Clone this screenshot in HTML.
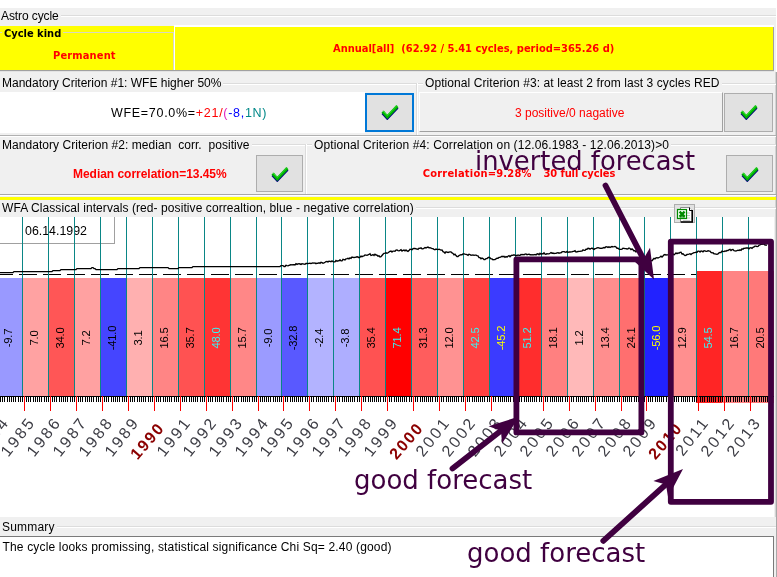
<!DOCTYPE html>
<html><head><meta charset="utf-8"><title>Astro cycle</title>
<style>
html,body{margin:0;padding:0;background:#fff;}
body{width:777px;height:577px;position:relative;overflow:hidden;font-family:"Liberation Sans",sans-serif;font-size:12px;color:#000;}
.a{position:absolute;}
.t{position:absolute;white-space:nowrap;line-height:14px;}
.tb{font-family:"DejaVu Sans Condensed","DejaVu Sans","Liberation Sans",sans-serif;font-weight:bold;font-size:11px;}
.red{color:#f00;}
.btn{position:absolute;background:#e1e1e1;border:1px solid #adadad;box-sizing:border-box;}
.vl{position:absolute;top:217px;width:1px;height:180px;background:#0a8686;}
.bar{position:absolute;}
.bl{position:absolute;white-space:nowrap;font-size:11.3px;letter-spacing:-0.25px;line-height:12px;transform:translate(-50%,-50%) rotate(-90deg);}
.yl{position:absolute;white-space:nowrap;font-size:16px;letter-spacing:2.44px;line-height:16px;color:#3c3c44;transform-origin:100% 50%;}
.yb{font-weight:bold;color:#8b0000;letter-spacing:1.8px;}
.ann{position:absolute;white-space:nowrap;color:#400040;font-family:"DejaVu Sans","Liberation Sans",sans-serif;}
</style></head><body>

<div class="a" style="left:0;top:8px;width:776px;height:569px;background:#f0f0f0"></div>
<div class="a" style="left:775px;top:72px;width:1px;height:505px;background:#d4d4d4"></div>
<div class="a" style="left:776px;top:72px;width:1px;height:505px;background:#a8a8a8"></div>
<div class="a" style="left:0;top:15px;width:776px;height:1px;background:#dcdcdc"></div>
<div class="a" style="left:0;top:16px;width:776px;height:1px;background:#fff"></div>
<div class="t" style="left:0;top:9px;background:#f0f0f0;padding:0 2px 0 1px;letter-spacing:-0.1px">Astro cycle</div>
<div class="a" style="left:0;top:26px;width:174px;height:44px;background:#ffff00"></div>
<div class="a" style="left:174px;top:25px;width:600px;height:46px;background:#fff"></div>
<div class="a" style="left:175px;top:27px;width:599px;height:43px;background:#ffff00;box-sizing:border-box;border-right:1px solid #a0a0a0"></div>
<div class="a" style="left:0;top:32px;width:174px;height:38px;border:1px solid #d8d8c0;border-left:none;border-bottom:none;box-sizing:border-box"></div>
<div class="a" style="left:0;top:70px;width:774px;height:1px;background:#a0a0a0"></div>
<div class="a" style="left:0;top:71px;width:774px;height:1px;background:#e3e3e3"></div>
<div class="t tb" style="left:2px;top:27px;background:#ffff00;padding:0 2px">Cycle kind</div>
<div class="t tb red" style="left:53px;top:49px;letter-spacing:0.15px">Permanent</div>
<div class="t tb red" style="left:333px;top:42px">Annual[all]&nbsp; (62.92 / 5.41 cycles, period=365.26 d)</div>
<div class="a" style="left:0;top:83px;width:417px;height:1px;background:#dcdcdc"></div>
<div class="a" style="left:0;top:84px;width:417px;height:1px;background:#fff"></div>
<div class="t" style="left:0;top:76px;background:#f0f0f0;padding:0 2px 0 2px">Mandatory Criterion #1: WFE higher 50%</div>
<div class="a" style="left:0;top:92px;width:365px;height:41px;background:#fff"></div>
<div class="t" style="left:111px;top:106px;font-size:12.5px;letter-spacing:0.7px">WFE=70.0%=<span style="color:#f00">+21/</span><span style="color:#e020c0">(</span><span style="color:#00f">-8,</span><span style="color:#088">1N)</span></div>
<div class="btn" style="left:365px;top:93px;width:49px;height:39px;border:2px solid #0078d7"></div>
<svg class="a" style="left:381px;top:104px" width="18" height="16" viewBox="0 0 18 16"><path d="M1.6 8.9 L6.3 14.1 L16.4 3.4" fill="none" stroke="#000080" stroke-width="3"/><path d="M1.6 7.6 L6.3 12.8 L16.4 2.1" fill="none" stroke="#00b400" stroke-width="3"/><path d="M2 6.9 L6.3 11.6 L15.8 1.6" fill="none" stroke="#30e030" stroke-width="1"/></svg>
<div class="a" style="left:416px;top:83px;width:1px;height:52px;background:#dcdcdc"></div>
<div class="a" style="left:417px;top:83px;width:1px;height:52px;background:#fff"></div>
<div class="a" style="left:418px;top:83px;width:358px;height:1px;background:#dcdcdc"></div>
<div class="a" style="left:418px;top:84px;width:358px;height:1px;background:#fff"></div>
<div class="t" style="left:423px;top:76px;background:#f0f0f0;padding:0 2px 0 2px;letter-spacing:0.08px">Optional Criterion #3: at least 2 from last 3 cycles RED</div>
<div class="a" style="left:419px;top:92px;width:304px;height:40px;box-sizing:border-box;border-top:1px solid #fff;border-left:1px solid #fff;border-right:1px solid #a0a0a0;border-bottom:1px solid #a0a0a0"></div>
<div class="t red" style="left:515px;top:106px">3 positive/0 nagative</div>
<div class="btn" style="left:724px;top:93px;width:49px;height:39px"></div>
<svg class="a" style="left:740px;top:104px" width="18" height="16" viewBox="0 0 18 16"><path d="M1.6 8.9 L6.3 14.1 L16.4 3.4" fill="none" stroke="#000080" stroke-width="3"/><path d="M1.6 7.6 L6.3 12.8 L16.4 2.1" fill="none" stroke="#00b400" stroke-width="3"/><path d="M2 6.9 L6.3 11.6 L15.8 1.6" fill="none" stroke="#30e030" stroke-width="1"/></svg>
<div class="a" style="left:0;top:135px;width:776px;height:1px;background:#b0b0b0"></div>
<div class="a" style="left:0;top:136px;width:776px;height:1px;background:#fff"></div>
<div class="a" style="left:0;top:144px;width:306px;height:1px;background:#dcdcdc"></div>
<div class="a" style="left:0;top:145px;width:306px;height:1px;background:#fff"></div>
<div class="a" style="left:305px;top:144px;width:1px;height:50px;background:#dcdcdc"></div>
<div class="a" style="left:306px;top:144px;width:1px;height:50px;background:#fff"></div>
<div class="t" style="left:0;top:138px;background:#f0f0f0;padding:0 2px 0 2px;letter-spacing:0.045px">Mandatory Criterion #2: median&nbsp; corr.&nbsp; positive</div>
<div class="t red" style="left:73px;top:166.9px;font-weight:bold;letter-spacing:-0.03px">Median correlation=13.45%</div>
<div class="btn" style="left:256px;top:155px;width:47px;height:37px"></div>
<svg class="a" style="left:271px;top:165.5px" width="18" height="16" viewBox="0 0 18 16"><path d="M1.6 8.9 L6.3 14.1 L16.4 3.4" fill="none" stroke="#000080" stroke-width="3"/><path d="M1.6 7.6 L6.3 12.8 L16.4 2.1" fill="none" stroke="#00b400" stroke-width="3"/><path d="M2 6.9 L6.3 11.6 L15.8 1.6" fill="none" stroke="#30e030" stroke-width="1"/></svg>
<div class="a" style="left:307px;top:144px;width:469px;height:1px;background:#dcdcdc"></div>
<div class="a" style="left:307px;top:145px;width:469px;height:1px;background:#fff"></div>
<div class="t" style="left:312px;top:138px;background:#f0f0f0;padding:0 2px 0 2px;letter-spacing:0.11px">Optional Criterion #4: Correlation on (12.06.1983 - 12.06.2013)&gt;0</div>
<div class="t tb red" style="left:422.7px;top:167.4px;letter-spacing:0.22px">Correlation=9.28%<span style="letter-spacing:-0.08px;padding-left:11.8px">30 full cycles</span></div>
<div class="btn" style="left:726px;top:155px;width:47px;height:37px"></div>
<svg class="a" style="left:741.2px;top:165.5px" width="18" height="16" viewBox="0 0 18 16"><path d="M1.6 8.9 L6.3 14.1 L16.4 3.4" fill="none" stroke="#000080" stroke-width="3"/><path d="M1.6 7.6 L6.3 12.8 L16.4 2.1" fill="none" stroke="#00b400" stroke-width="3"/><path d="M2 6.9 L6.3 11.6 L15.8 1.6" fill="none" stroke="#30e030" stroke-width="1"/></svg>
<div class="a" style="left:0;top:194px;width:776px;height:1px;background:#a8a8a8"></div>
<div class="a" style="left:0;top:195px;width:776px;height:1px;background:#fff"></div>
<div class="a" style="left:0;top:197px;width:776px;height:3px;background:#ffff00"></div>
<div class="a" style="left:0;top:207px;width:776px;height:1px;background:#dcdcdc"></div>
<div class="a" style="left:0;top:208px;width:776px;height:1px;background:#fff"></div>
<div class="t" style="left:0;top:201px;background:#f0f0f0;padding:0 2px 0 2px;letter-spacing:0.08px">WFA Classical intervals (red- positive correaltion, blue - negative correlation)</div>
<div class="a" style="left:0;top:217px;width:774px;height:300px;background:#fff"></div>
<div class="a" style="left:0;top:217px;width:115px;height:27px;box-sizing:border-box;border-right:1px solid #a0a0a0;border-bottom:1px solid #a0a0a0"></div>
<div class="t" style="left:25px;top:224px;font-size:12.4px">06.14.1992</div>
<div class="bar" style="left:0px;top:278px;width:22px;height:119px;background:#9999ff"></div>
<div class="bar" style="left:22px;top:278px;width:26px;height:119px;background:#ffa2a2"></div>
<div class="bar" style="left:48px;top:278px;width:26px;height:119px;background:#ff5656"></div>
<div class="bar" style="left:74px;top:278px;width:26px;height:119px;background:#ffa1a1"></div>
<div class="bar" style="left:100px;top:278px;width:26px;height:119px;background:#4545ff"></div>
<div class="bar" style="left:126px;top:278px;width:26px;height:119px;background:#ffb0b0"></div>
<div class="bar" style="left:152px;top:278px;width:26px;height:119px;background:#ff8585"></div>
<div class="bar" style="left:178px;top:278px;width:26px;height:119px;background:#ff5252"></div>
<div class="bar" style="left:204px;top:278px;width:26px;height:119px;background:#ff3434"></div>
<div class="bar" style="left:230px;top:278px;width:26px;height:119px;background:#ff8787"></div>
<div class="bar" style="left:256px;top:278px;width:25px;height:119px;background:#9b9bff"></div>
<div class="bar" style="left:281px;top:278px;width:26px;height:119px;background:#5959ff"></div>
<div class="bar" style="left:307px;top:278px;width:26px;height:119px;background:#b3b3ff"></div>
<div class="bar" style="left:333px;top:278px;width:26px;height:119px;background:#aeaeff"></div>
<div class="bar" style="left:359px;top:278px;width:26px;height:119px;background:#ff5252"></div>
<div class="bar" style="left:385px;top:278px;width:26px;height:119px;background:#ff0000"></div>
<div class="bar" style="left:411px;top:278px;width:26px;height:119px;background:#ff5d5d"></div>
<div class="bar" style="left:437px;top:278px;width:26px;height:119px;background:#ff9292"></div>
<div class="bar" style="left:463px;top:278px;width:26px;height:119px;background:#ff4141"></div>
<div class="bar" style="left:489px;top:278px;width:26px;height:119px;background:#3b3bff"></div>
<div class="bar" style="left:515px;top:278px;width:26px;height:119px;background:#ff2d2d"></div>
<div class="bar" style="left:541px;top:278px;width:26px;height:119px;background:#ff8080"></div>
<div class="bar" style="left:567px;top:278px;width:26px;height:119px;background:#ffb9b9"></div>
<div class="bar" style="left:593px;top:278px;width:26px;height:119px;background:#ff8e8e"></div>
<div class="bar" style="left:619px;top:278px;width:25px;height:119px;background:#ff6f6f"></div>
<div class="bar" style="left:644px;top:278px;width:26px;height:119px;background:#2222ff"></div>
<div class="bar" style="left:670px;top:278px;width:26px;height:119px;background:#ff8f8f"></div>
<div class="bar" style="left:696px;top:271px;width:26px;height:132px;background:#ff2525"></div>
<div class="bar" style="left:722px;top:271px;width:26px;height:132px;background:#ff8484"></div>
<div class="bar" style="left:748px;top:271px;width:26px;height:132px;background:#ff7979"></div>
<svg class="a" style="left:0;top:270px" width="777" height="8"><line x1="-5" y1="4.5" x2="696" y2="4.5" stroke="#000" stroke-width="1" stroke-dasharray="18 6"/></svg>
<div class="vl" style="left:22px"></div>
<div class="vl" style="left:48px"></div>
<div class="vl" style="left:74px"></div>
<div class="vl" style="left:100px"></div>
<div class="vl" style="left:126px"></div>
<div class="vl" style="left:152px"></div>
<div class="vl" style="left:178px"></div>
<div class="vl" style="left:204px"></div>
<div class="vl" style="left:230px"></div>
<div class="vl" style="left:256px"></div>
<div class="vl" style="left:281px"></div>
<div class="vl" style="left:307px"></div>
<div class="vl" style="left:333px"></div>
<div class="vl" style="left:359px"></div>
<div class="vl" style="left:385px"></div>
<div class="vl" style="left:411px"></div>
<div class="vl" style="left:437px"></div>
<div class="vl" style="left:463px"></div>
<div class="vl" style="left:489px"></div>
<div class="vl" style="left:515px"></div>
<div class="vl" style="left:541px"></div>
<div class="vl" style="left:567px"></div>
<div class="vl" style="left:593px"></div>
<div class="vl" style="left:619px"></div>
<div class="vl" style="left:644px"></div>
<div class="vl" style="left:670px"></div>
<div class="vl" style="left:696px"></div>
<div class="vl" style="left:722px"></div>
<div class="vl" style="left:748px"></div>
<div class="bl" style="left:8.10px;top:338px;color:#000">-9.7</div>
<div class="bl" style="left:34.10px;top:338px;color:#000">7.0</div>
<div class="bl" style="left:60.10px;top:338px;color:#000">34.0</div>
<div class="bl" style="left:86.10px;top:338px;color:#000">7.2</div>
<div class="bl" style="left:112.10px;top:338px;color:#000">-41.0</div>
<div class="bl" style="left:138.10px;top:338px;color:#000">3.1</div>
<div class="bl" style="left:164.10px;top:338px;color:#000">16.5</div>
<div class="bl" style="left:190.10px;top:338px;color:#000">35.7</div>
<div class="bl" style="left:216.10px;top:338px;color:#38f4f4">48.0</div>
<div class="bl" style="left:242.10px;top:338px;color:#000">15.7</div>
<div class="bl" style="left:267.60px;top:338px;color:#000">-9.0</div>
<div class="bl" style="left:293.10px;top:338px;color:#000">-32.8</div>
<div class="bl" style="left:319.10px;top:338px;color:#000">-2.4</div>
<div class="bl" style="left:345.10px;top:338px;color:#000">-3.8</div>
<div class="bl" style="left:371.10px;top:338px;color:#000">35.4</div>
<div class="bl" style="left:397.10px;top:338px;color:#38f4f4">71.4</div>
<div class="bl" style="left:423.10px;top:338px;color:#000">31.3</div>
<div class="bl" style="left:449.10px;top:338px;color:#000">12.0</div>
<div class="bl" style="left:475.10px;top:338px;color:#38f4f4">42.5</div>
<div class="bl" style="left:501.10px;top:338px;color:#ffff00">-45.2</div>
<div class="bl" style="left:527.10px;top:338px;color:#38f4f4">51.2</div>
<div class="bl" style="left:553.10px;top:338px;color:#000">18.1</div>
<div class="bl" style="left:579.10px;top:338px;color:#000">1.2</div>
<div class="bl" style="left:605.10px;top:338px;color:#000">13.4</div>
<div class="bl" style="left:630.60px;top:338px;color:#000">24.1</div>
<div class="bl" style="left:656.10px;top:338px;color:#ffff00">-56.0</div>
<div class="bl" style="left:682.10px;top:338px;color:#000">12.9</div>
<div class="bl" style="left:708.10px;top:338px;color:#38f4f4">54.5</div>
<div class="bl" style="left:734.10px;top:338px;color:#000">16.7</div>
<div class="bl" style="left:760.10px;top:338px;color:#000">20.5</div>
<div class="a" style="left:0;top:396px;width:774px;height:1px;background:#000"></div>
<svg class="a" style="left:0;top:390px" width="777" height="14" viewBox="0 390 777 14" shape-rendering="crispEdges"><path d="M0 397v5M2 397v5M4 397v5M7 397v5M9 397v5M11 397v5M13 397v5M15 397v5M18 397v5M20 397v5M22 397v5M24 397v5M26 397v5M28 397v5M30 397v5M33 397v5M35 397v5M37 397v5M39 397v5M41 397v5M44 397v5M46 397v5M48 397v5M50 397v5M52 397v5M54 397v5M56 397v5M59 397v5M61 397v5M63 397v5M65 397v5M67 397v5M70 397v5M72 397v5M74 397v5M76 397v5M78 397v5M80 397v5M82 397v5M85 397v5M87 397v5M89 397v5M91 397v5M93 397v5M96 397v5M98 397v5M100 397v5M102 397v5M104 397v5M106 397v5M108 397v5M111 397v5M113 397v5M115 397v5M117 397v5M119 397v5M122 397v5M124 397v5M126 397v5M128 397v5M130 397v5M132 397v5M134 397v5M137 397v5M139 397v5M141 397v5M143 397v5M145 397v5M148 397v5M150 397v5M152 397v5M154 397v5M156 397v5M158 397v5M160 397v5M163 397v5M165 397v5M167 397v5M169 397v5M171 397v5M174 397v5M176 397v5M178 397v5M180 397v5M182 397v5M184 397v5M186 397v5M189 397v5M191 397v5M193 397v5M195 397v5M197 397v5M200 397v5M202 397v5M204 397v5M206 397v5M208 397v5M210 397v5M212 397v5M215 397v5M217 397v5M219 397v5M221 397v5M223 397v5M226 397v5M228 397v5M230 397v5M232 397v5M234 397v5M236 397v5M238 397v5M241 397v5M243 397v5M245 397v5M247 397v5M249 397v5M252 397v5M254 397v5M256 397v5M258 397v5M260 397v5M262 397v5M264 397v5M266 397v5M268 397v5M270 397v5M273 397v5M275 397v5M277 397v5M279 397v5M281 397v5M283 397v5M285 397v5M287 397v5M290 397v5M292 397v5M294 397v5M296 397v5M298 397v5M300 397v5M302 397v5M305 397v5M307 397v5M309 397v5M311 397v5M313 397v5M316 397v5M318 397v5M320 397v5M322 397v5M324 397v5M326 397v5M328 397v5M331 397v5M333 397v5M335 397v5M337 397v5M339 397v5M342 397v5M344 397v5M346 397v5M348 397v5M350 397v5M352 397v5M354 397v5M357 397v5M359 397v5M361 397v5M363 397v5M365 397v5M368 397v5M370 397v5M372 397v5M374 397v5M376 397v5M378 397v5M380 397v5M383 397v5M385 397v5M387 397v5M389 397v5M391 397v5M394 397v5M396 397v5M398 397v5M400 397v5M402 397v5M404 397v5M406 397v5M409 397v5M411 397v5M413 397v5M415 397v5M417 397v5M420 397v5M422 397v5M424 397v5M426 397v5M428 397v5M430 397v5M432 397v5M435 397v5M437 397v5M439 397v5M441 397v5M443 397v5M446 397v5M448 397v5M450 397v5M452 397v5M454 397v5M456 397v5M458 397v5M461 397v5M463 397v5M465 397v5M467 397v5M469 397v5M472 397v5M474 397v5M476 397v5M478 397v5M480 397v5M482 397v5M484 397v5M487 397v5M489 397v5M491 397v5M493 397v5M495 397v5M498 397v5M500 397v5M502 397v5M504 397v5M506 397v5M508 397v5M510 397v5M513 397v5M515 397v5M517 397v5M519 397v5M521 397v5M524 397v5M526 397v5M528 397v5M530 397v5M532 397v5M534 397v5M536 397v5M539 397v5M541 397v5M543 397v5M545 397v5M547 397v5M550 397v5M552 397v5M554 397v5M556 397v5M558 397v5M560 397v5M562 397v5M565 397v5M567 397v5M569 397v5M571 397v5M573 397v5M576 397v5M578 397v5M580 397v5M582 397v5M584 397v5M586 397v5M588 397v5M591 397v5M593 397v5M595 397v5M597 397v5M599 397v5M602 397v5M604 397v5M606 397v5M608 397v5M610 397v5M612 397v5M614 397v5M617 397v5M619 397v5M621 397v5M623 397v5M625 397v5M627 397v5M629 397v5M631 397v5M634 397v5M636 397v5M638 397v5M640 397v5M642 397v5M644 397v5M646 397v5M648 397v5M650 397v5M652 397v5M655 397v5M657 397v5M659 397v5M661 397v5M663 397v5M666 397v5M668 397v5M670 397v5M672 397v5M674 397v5M676 397v5M678 397v5M681 397v5M683 397v5M685 397v5M687 397v5M689 397v5M692 397v5M694 397v5M696 397v5M698 397v5M700 397v5M702 397v5M704 397v5M707 397v5M709 397v5M711 397v5M713 397v5M715 397v5M718 397v5M720 397v5M722 397v5M724 397v5M726 397v5M728 397v5M730 397v5M733 397v5M735 397v5M737 397v5M739 397v5M741 397v5M744 397v5M746 397v5M748 397v5M750 397v5M752 397v5M754 397v5M756 397v5M759 397v5M761 397v5M763 397v5M765 397v5M767 397v5M770 397v5M772 397v5" stroke="#000" stroke-width="1" fill="none" transform="translate(0.5,0)"/></svg>
<div class="a" style="left:24px;top:396px;width:1px;height:15px;background:#f00"></div>
<div class="a" style="left:50px;top:396px;width:1px;height:15px;background:#f00"></div>
<div class="a" style="left:76px;top:396px;width:1px;height:15px;background:#f00"></div>
<div class="a" style="left:102px;top:396px;width:1px;height:15px;background:#f00"></div>
<div class="a" style="left:128px;top:396px;width:1px;height:15px;background:#f00"></div>
<div class="a" style="left:154px;top:396px;width:1px;height:15px;background:#f00"></div>
<div class="a" style="left:180px;top:396px;width:1px;height:15px;background:#f00"></div>
<div class="a" style="left:206px;top:396px;width:1px;height:15px;background:#f00"></div>
<div class="a" style="left:232px;top:396px;width:1px;height:15px;background:#f00"></div>
<div class="a" style="left:258px;top:396px;width:1px;height:15px;background:#f00"></div>
<div class="a" style="left:283px;top:396px;width:1px;height:15px;background:#f00"></div>
<div class="a" style="left:309px;top:396px;width:1px;height:15px;background:#f00"></div>
<div class="a" style="left:335px;top:396px;width:1px;height:15px;background:#f00"></div>
<div class="a" style="left:361px;top:396px;width:1px;height:15px;background:#f00"></div>
<div class="a" style="left:387px;top:396px;width:1px;height:15px;background:#f00"></div>
<div class="a" style="left:413px;top:396px;width:1px;height:15px;background:#f00"></div>
<div class="a" style="left:439px;top:396px;width:1px;height:15px;background:#f00"></div>
<div class="a" style="left:465px;top:396px;width:1px;height:15px;background:#f00"></div>
<div class="a" style="left:491px;top:396px;width:1px;height:15px;background:#f00"></div>
<div class="a" style="left:517px;top:396px;width:1px;height:15px;background:#f00"></div>
<div class="a" style="left:543px;top:396px;width:1px;height:15px;background:#f00"></div>
<div class="a" style="left:569px;top:396px;width:1px;height:15px;background:#f00"></div>
<div class="a" style="left:595px;top:396px;width:1px;height:15px;background:#f00"></div>
<div class="a" style="left:621px;top:396px;width:1px;height:15px;background:#f00"></div>
<div class="a" style="left:646px;top:396px;width:1px;height:15px;background:#f00"></div>
<div class="a" style="left:672px;top:396px;width:1px;height:15px;background:#f00"></div>
<div class="a" style="left:698px;top:396px;width:1px;height:15px;background:#f00"></div>
<div class="a" style="left:724px;top:396px;width:1px;height:15px;background:#f00"></div>
<div class="a" style="left:750px;top:396px;width:1px;height:15px;background:#f00"></div>
<div class="yl" style="right:770.70px;top:410.7px;transform:rotate(-52deg)">1984</div>
<div class="yl" style="right:744.70px;top:410.7px;transform:rotate(-52deg)">1985</div>
<div class="yl" style="right:718.70px;top:410.7px;transform:rotate(-52deg)">1986</div>
<div class="yl" style="right:692.70px;top:410.7px;transform:rotate(-52deg)">1987</div>
<div class="yl" style="right:666.70px;top:410.7px;transform:rotate(-52deg)">1988</div>
<div class="yl" style="right:640.70px;top:410.7px;transform:rotate(-52deg)">1989</div>
<div class="yl yb" style="right:615.70px;top:416.5px;transform:rotate(-49deg)">1990</div>
<div class="yl" style="right:588.70px;top:410.7px;transform:rotate(-52deg)">1991</div>
<div class="yl" style="right:562.70px;top:410.7px;transform:rotate(-52deg)">1992</div>
<div class="yl" style="right:536.70px;top:410.7px;transform:rotate(-52deg)">1993</div>
<div class="yl" style="right:510.70px;top:410.7px;transform:rotate(-52deg)">1994</div>
<div class="yl" style="right:485.70px;top:410.7px;transform:rotate(-52deg)">1995</div>
<div class="yl" style="right:459.70px;top:410.7px;transform:rotate(-52deg)">1996</div>
<div class="yl" style="right:433.70px;top:410.7px;transform:rotate(-52deg)">1997</div>
<div class="yl" style="right:407.70px;top:410.7px;transform:rotate(-52deg)">1998</div>
<div class="yl" style="right:381.70px;top:410.7px;transform:rotate(-52deg)">1999</div>
<div class="yl yb" style="right:356.70px;top:416.5px;transform:rotate(-49deg)">2000</div>
<div class="yl" style="right:329.70px;top:410.7px;transform:rotate(-52deg)">2001</div>
<div class="yl" style="right:303.70px;top:410.7px;transform:rotate(-52deg)">2002</div>
<div class="yl" style="right:277.70px;top:410.7px;transform:rotate(-52deg)">2003</div>
<div class="yl" style="right:251.70px;top:410.7px;transform:rotate(-52deg)">2004</div>
<div class="yl" style="right:225.70px;top:410.7px;transform:rotate(-52deg)">2005</div>
<div class="yl" style="right:199.70px;top:410.7px;transform:rotate(-52deg)">2006</div>
<div class="yl" style="right:173.70px;top:410.7px;transform:rotate(-52deg)">2007</div>
<div class="yl" style="right:147.70px;top:410.7px;transform:rotate(-52deg)">2008</div>
<div class="yl" style="right:122.70px;top:410.7px;transform:rotate(-52deg)">2009</div>
<div class="yl yb" style="right:97.70px;top:416.5px;transform:rotate(-49deg)">2010</div>
<div class="yl" style="right:70.70px;top:410.7px;transform:rotate(-52deg)">2011</div>
<div class="yl" style="right:44.70px;top:410.7px;transform:rotate(-52deg)">2012</div>
<div class="yl" style="right:18.70px;top:410.7px;transform:rotate(-52deg)">2013</div>
<svg class="a" style="left:0;top:217px" width="777" height="70" viewBox="0 217 777 70"><polyline fill="none" stroke="#000" stroke-width="1.25" stroke-linejoin="miter" points="0.0,272.5 1.0,272.5 2.0,272.5 3.0,272.5 4.0,272.5 5.0,272.5 6.0,272.5 7.0,272.5 8.0,272.5 9.0,272.5 10.0,272.5 11.0,272.5 12.0,272.5 13.0,272.5 14.0,271.5 15.0,271.5 16.0,271.5 17.0,271.5 18.0,271.5 19.0,271.5 20.0,271.5 21.0,271.5 22.0,271.5 23.0,271.5 24.0,271.5 25.0,271.5 26.0,271.5 27.0,271.5 28.0,271.5 29.0,271.5 30.0,271.5 31.0,271.5 32.0,271.5 33.0,271.5 34.0,271.5 35.0,271.5 36.0,271.5 37.0,271.5 38.0,271.5 39.0,271.5 40.0,271.5 41.0,271.5 42.0,271.5 43.0,271.5 44.0,271.5 45.0,271.5 46.0,271.5 47.0,271.5 48.0,271.5 49.0,271.5 50.0,271.5 51.0,271.5 52.0,271.5 53.0,270.5 54.0,270.5 55.0,270.5 56.0,270.5 57.0,270.5 58.0,270.5 59.0,270.5 60.0,270.5 61.0,269.5 62.0,269.5 63.0,269.5 64.0,269.5 65.0,269.5 66.0,269.5 67.0,269.5 68.0,269.5 69.0,269.5 70.0,269.5 71.0,269.5 72.0,269.5 73.0,269.5 74.0,269.5 75.0,269.5 76.0,269.5 77.0,268.5 78.0,268.5 79.0,268.5 80.0,268.5 81.0,268.5 82.0,268.5 83.0,268.5 84.0,268.5 85.0,268.5 86.0,268.5 87.0,268.5 88.0,268.5 89.0,268.5 90.0,268.5 91.0,268.5 92.0,267.5 93.0,267.5 94.0,268.5 95.0,268.5 96.0,269.5 97.0,269.5 98.0,269.5 99.0,269.5 100.0,269.5 101.0,269.5 102.0,269.5 103.0,269.5 104.0,269.5 105.0,269.5 106.0,269.5 107.0,269.5 108.0,269.5 109.0,269.5 110.0,269.5 111.0,269.5 112.0,269.5 113.0,269.5 114.0,269.5 115.0,269.5 116.0,269.5 117.0,269.5 118.0,268.5 119.0,268.5 120.0,268.5 121.0,268.5 122.0,268.5 123.0,268.5 124.0,268.5 125.0,268.5 126.0,268.5 127.0,268.5 128.0,268.5 129.0,268.5 130.0,268.5 131.0,268.5 132.0,268.5 133.0,268.5 134.0,268.5 135.0,268.5 136.0,268.5 137.0,268.5 138.0,268.5 139.0,268.5 140.0,267.5 141.0,267.5 142.0,267.5 143.0,267.5 144.0,267.5 145.0,267.5 146.0,267.5 147.0,267.5 148.0,267.5 149.0,267.5 150.0,267.5 151.0,267.5 152.0,267.5 153.0,267.5 154.0,267.5 155.0,267.5 156.0,267.5 157.0,267.5 158.0,267.5 159.0,267.5 160.0,267.5 161.0,267.5 162.0,267.5 163.0,267.5 164.0,267.5 165.0,267.5 166.0,267.5 167.0,267.5 168.0,267.5 169.0,268.5 170.0,268.5 171.0,268.5 172.0,268.5 173.0,268.5 174.0,268.5 175.0,268.5 176.0,268.5 177.0,268.5 178.0,268.5 179.0,267.5 180.0,267.5 181.0,267.5 182.0,267.5 183.0,267.5 184.0,267.5 185.0,267.5 186.0,267.5 187.0,267.5 188.0,267.5 189.0,267.5 190.0,267.5 191.0,267.5 192.0,267.5 193.0,266.5 194.0,266.5 195.0,266.5 196.0,266.5 197.0,266.5 198.0,266.5 199.0,266.5 200.0,266.5 201.0,266.5 202.0,266.5 203.0,266.5 204.0,266.5 205.0,266.5 206.0,266.5 207.0,266.5 208.0,266.5 209.0,266.5 210.0,266.5 211.0,266.5 212.0,266.5 213.0,266.5 214.0,266.5 215.0,266.5 216.0,266.5 217.0,266.5 218.0,266.5 219.0,266.5 220.0,266.5 221.0,266.5 222.0,266.5 223.0,266.5 224.0,266.5 225.0,266.5 226.0,266.5 227.0,266.5 228.0,266.5 229.0,266.5 230.0,266.5 231.0,266.5 232.0,266.5 233.0,266.5 234.0,266.5 235.0,266.5 236.0,266.5 237.0,266.5 238.0,266.5 239.0,266.5 240.0,266.5 241.0,266.5 242.0,266.5 243.0,266.5 244.0,266.5 245.0,266.5 246.0,266.5 247.0,266.5 248.0,266.5 249.0,266.5 250.0,266.5 251.0,266.5 252.0,266.5 253.0,266.5 254.0,266.5 255.0,266.5 256.0,266.5 257.0,266.5 258.0,266.5 259.0,266.5 260.0,266.5 261.0,266.5 262.0,266.5 263.0,266.5 264.0,266.5 265.0,266.5 266.0,266.5 267.0,266.5 268.0,266.5 269.0,266.5 270.0,266.5 271.0,266.5 272.0,266.5 273.0,266.5 274.0,266.5 275.0,266.5 276.0,266.5 277.0,266.5 278.0,266.5 279.0,266.5 280.0,266.5 281.0,265.5 282.0,265.5 283.0,265.5 284.0,266.5 285.0,266.5 286.0,265.5"/><polyline fill="none" stroke="#000" stroke-width="1.35" stroke-linejoin="miter" points="285.0,266.0 286.0,265.2 287.0,265.6 288.0,265.8 289.0,265.3 290.0,265.0 291.0,264.6 292.0,264.8 293.0,264.7 294.0,264.7 295.0,265.0 296.0,263.7 297.0,264.4 298.0,263.8 299.0,263.7 300.0,264.0 301.0,264.4 302.0,263.8 303.0,263.9 304.0,264.1 305.0,264.3 306.0,263.5 307.0,263.4 308.0,263.6 309.0,263.4 310.0,263.3 311.0,263.6 312.0,263.2 313.0,263.0 314.0,263.1 315.0,262.9 316.0,263.7 317.0,263.2 318.0,263.4 319.0,262.7 320.0,263.4 321.0,262.2 322.0,262.6 323.0,263.2 324.0,262.9 325.0,262.3 326.0,261.6 327.0,261.5 328.0,261.9 329.0,261.2 330.0,261.4 331.0,261.7 332.0,260.8 333.0,261.7 334.0,261.8 335.0,261.9 336.0,260.5 337.0,261.3 338.0,260.8 339.0,260.9 340.0,259.8 341.0,260.9 342.0,260.8 343.0,259.3 344.0,259.6 345.0,260.0 346.0,258.8 347.0,258.6 348.0,258.3 349.0,258.9 350.0,257.8 351.0,258.3 352.0,257.1 353.0,257.4 354.0,257.5 355.0,257.4 356.0,257.1 357.0,256.8 358.0,257.0 359.0,257.7 360.0,257.3 361.0,256.2 362.0,256.7 363.0,256.2 364.0,256.0 365.0,254.9 366.0,255.1 367.0,255.3 368.0,254.8 369.0,254.5 370.0,253.8 371.0,255.4 372.0,255.1 373.0,254.6 374.0,255.5 375.0,254.2 376.0,255.0 377.0,255.2 378.0,256.2 379.0,255.8 380.0,257.0 381.0,256.7 382.0,255.5 383.0,254.3 384.0,253.3 385.0,253.2 386.0,252.8 387.0,253.3 388.0,252.8 389.0,252.0 390.0,251.4 391.0,251.0 392.0,252.0 393.0,251.1 394.0,251.1 395.0,251.2 396.0,250.1 397.0,249.9 398.0,250.6 399.0,250.8 400.0,250.3 401.0,249.6 402.0,251.0 403.0,250.4 404.0,250.1 405.0,250.9 406.0,249.9 407.0,250.9 408.0,251.4 409.0,250.6 410.0,249.3 411.0,249.4 412.0,249.7 413.0,248.7 414.0,248.5 415.0,248.4 416.0,248.9 417.0,249.0 418.0,249.5 419.0,248.2 420.0,248.4 421.0,247.9 422.0,248.8 423.0,248.9 424.0,248.2 425.0,247.6 426.0,248.0 427.0,247.4 428.0,247.1 429.0,247.8 430.0,247.6 431.0,248.0 432.0,248.6 433.0,248.6 434.0,249.3 435.0,249.8 436.0,249.0 437.0,249.4 438.0,249.6 439.0,249.2 440.0,249.7 441.0,250.1 442.0,250.0 443.0,251.6 444.0,252.0 445.0,253.2 446.0,251.9 447.0,252.2 448.0,252.5 449.0,252.1 450.0,251.9 451.0,251.9 452.0,252.9 453.0,253.4 454.0,254.9 455.0,254.2 456.0,255.6 457.0,256.6 458.0,256.5 459.0,255.6 460.0,255.0 461.0,254.6 462.0,254.8 463.0,253.9 464.0,253.9 465.0,254.2 466.0,254.4 467.0,254.7 468.0,255.3 469.0,254.2 470.0,254.5 471.0,255.2 472.0,255.1 473.0,254.9 474.0,255.3 475.0,255.1 476.0,255.2 477.0,255.7 478.0,255.9 479.0,257.6 480.0,257.6 481.0,258.8 482.0,258.0 483.0,258.6 484.0,259.5 485.0,259.6 486.0,258.6 487.0,258.5 488.0,257.7 489.0,257.3 490.0,257.8 491.0,258.9 492.0,258.9 493.0,259.8 494.0,259.7 495.0,259.6 496.0,258.8 497.0,258.2 498.0,258.2 499.0,257.4 500.0,257.3 501.0,257.0 502.0,256.3 503.0,256.7 504.0,256.3 505.0,257.4 506.0,256.5 507.0,257.1 508.0,256.3 509.0,255.6 510.0,256.7 511.0,255.7 512.0,255.3 513.0,255.4 514.0,254.7 515.0,255.3 516.0,255.5 517.0,255.5 518.0,254.9 519.0,255.4 520.0,255.3 521.0,254.4 522.0,254.7 523.0,254.4 524.0,254.8 525.0,254.1 526.0,254.0 527.0,254.7 528.0,254.3 529.0,254.2 530.0,254.7 531.0,254.6 532.0,254.9 533.0,254.7 534.0,254.8 535.0,254.4 536.0,254.9 537.0,254.0 538.0,253.8 539.0,254.8 540.0,253.3 541.0,254.2 542.0,253.7 543.0,253.9 544.0,252.8 545.0,254.1 546.0,254.2 547.0,253.7 548.0,253.8 549.0,253.9 550.0,253.3 551.0,252.6 552.0,253.2 553.0,253.0 554.0,253.5 555.0,253.4 556.0,253.3 557.0,252.8 558.0,252.6 559.0,253.2 560.0,252.8 561.0,252.8 562.0,251.9 563.0,251.6 564.0,251.7 565.0,252.0 566.0,252.2 567.0,251.4 568.0,252.5 569.0,252.0 570.0,252.0 571.0,251.8 572.0,251.8 573.0,251.4 574.0,251.4 575.0,250.6 576.0,252.0 577.0,251.9 578.0,251.5 579.0,251.4 580.0,251.3 581.0,251.1 582.0,251.1 583.0,249.9 584.0,250.4 585.0,250.4 586.0,249.2 587.0,249.2 588.0,248.3 589.0,248.5 590.0,249.1 591.0,248.5 592.0,248.0 593.0,249.0 594.0,249.4 595.0,248.6 596.0,248.3 597.0,247.9 598.0,247.8 599.0,247.9 600.0,248.4 601.0,248.2 602.0,248.4 603.0,247.9 604.0,247.5 605.0,247.7 606.0,246.7 607.0,246.8 608.0,247.4 609.0,246.8 610.0,247.5 611.0,246.9 612.0,246.5 613.0,246.9 614.0,246.7 615.0,246.4 616.0,247.0 617.0,248.2 618.0,248.2 619.0,249.2 620.0,249.3 621.0,249.4 622.0,249.1 623.0,248.3 624.0,248.4 625.0,248.6 626.0,248.7 627.0,249.0 628.0,248.8 629.0,248.0 630.0,248.5 631.0,249.6 632.0,248.9 633.0,249.8 634.0,251.0 635.0,250.6 636.0,251.9 637.0,250.8 638.0,252.1 639.0,253.2 640.0,253.2 641.0,254.9 642.0,254.8 643.0,255.4 644.0,256.1 645.0,257.5 646.0,259.0 647.0,258.4 648.0,259.7 649.0,259.7 650.0,261.0 651.0,260.5 652.0,260.8 653.0,259.5 654.0,258.3 655.0,258.9 656.0,257.8 657.0,257.6 658.0,258.1 659.0,257.5 660.0,257.0 661.0,256.2 662.0,257.0 663.0,256.0 664.0,254.9 665.0,254.5 666.0,255.0 667.0,254.9 668.0,254.8 669.0,254.4 670.0,254.1 671.0,254.6 672.0,254.2 673.0,254.0 674.0,254.8 675.0,254.1 676.0,252.9 677.0,253.7 678.0,252.9 679.0,253.2 680.0,252.3 681.0,252.2 682.0,254.0 683.0,253.8 684.0,254.7 685.0,255.5 686.0,255.3 687.0,254.5 688.0,254.3 689.0,254.1 690.0,253.7 691.0,254.5 692.0,253.6 693.0,253.2 694.0,252.7 695.0,252.6 696.0,252.1 697.0,252.2 698.0,251.2 699.0,251.1 700.0,252.1 701.0,251.0 702.0,251.1 703.0,251.9 704.0,250.8 705.0,250.9 706.0,251.4 707.0,251.3 708.0,250.7 709.0,251.0 710.0,251.1 711.0,252.4 712.0,252.9 713.0,252.8 714.0,253.8 715.0,253.9 716.0,254.1 717.0,254.4 718.0,254.0 719.0,252.8 720.0,252.5 721.0,252.5 722.0,251.0 723.0,251.4 724.0,251.6 725.0,250.9 726.0,251.2 727.0,250.5 728.0,250.6 729.0,249.8 730.0,249.3 731.0,250.6 732.0,249.7 733.0,249.5 734.0,250.6 735.0,250.8 736.0,251.1 737.0,250.5 738.0,250.2 739.0,250.6 740.0,249.9 741.0,250.4 742.0,248.8 743.0,249.2 744.0,248.2 745.0,248.3 746.0,247.9 747.0,248.0 748.0,247.9 749.0,248.8 750.0,247.8 751.0,247.6 752.0,248.4 753.0,247.3 754.0,246.9 755.0,246.1 756.0,246.2 757.0,246.6 758.0,246.4 759.0,245.2 760.0,244.8 761.0,244.1 762.0,244.4 763.0,244.1 764.0,244.2 765.0,245.1 766.0,244.9 767.0,245.3"/></svg>
<div class="btn" style="left:674px;top:204px;width:21px;height:19px"></div>
<svg class="a" style="left:674px;top:204px" width="22" height="20" viewBox="674 204 22 20"><path d="M680.5 222 V207.5 H689.5 L692.5 210.5 V222 Z" fill="#fff" stroke="#8c8c8c" stroke-width="1"/><path d="M689.5 207.5 V210.5 H692.5" fill="#fff" stroke="#000" stroke-width="1"/><path d="M692.2 210 V222 H680.8" fill="none" stroke="#000" stroke-width="1.6"/><path d="M687 213 H690 M687 215.5 H690 M687 218 H690 M683 220.5 H690" stroke="#c8c8c8" stroke-width="1"/><rect x="677.5" y="209.5" width="9" height="9" fill="#f4fff4" stroke="#008a00" stroke-width="1.2"/><path d="M679.6 211.6 L684.6 216.6 M684.6 211.6 L679.6 216.6" stroke="#008a00" stroke-width="2.3"/><path d="M679.5 216.9 H685" stroke="#008a00" stroke-width="1.2"/></svg>
<div class="a" style="left:0;top:517px;width:776px;height:60px;background:#f0f0f0"></div>
<div class="a" style="left:0;top:526px;width:776px;height:1px;background:#dcdcdc"></div>
<div class="a" style="left:0;top:527px;width:776px;height:1px;background:#fff"></div>
<div class="t" style="left:0;top:520px;background:#f0f0f0;padding:0 2px 0 2px;letter-spacing:0.2px">Summary</div>
<div class="a" style="left:0;top:536px;width:774px;height:41px;background:#fff;box-sizing:border-box;border-top:1px solid #7a7a7a;border-right:1px solid #7a7a7a"></div>
<div class="t" style="left:2.5px;top:540px;letter-spacing:0.167px">The cycle looks promissing, statistical significance Chi Sq= 2.40 (good)</div>
<svg class="a" style="left:0;top:0" width="777" height="577" viewBox="0 0 777 577">
<rect x="516.4" y="259.4" width="125" height="173" fill="none" stroke="#400040" stroke-width="5.8" stroke-linejoin="round"/>
<rect x="670.8" y="241.6" width="100.2" height="260.2" fill="none" stroke="#400040" stroke-width="5.8" stroke-linejoin="round"/>
<line x1="605.5" y1="185.5" x2="643.4" y2="259.0" stroke="#400040" stroke-width="5.8" stroke-linecap="round"/><polygon points="654.0,279.4 630.5,257.8 643.4,259.0 650.0,247.7" fill="#400040"/>
<line x1="452.5" y1="468.5" x2="500.9" y2="430.7" stroke="#400040" stroke-width="5.8" stroke-linecap="round"/><polygon points="519.0,416.5 502.1,443.6 500.9,430.7 488.6,426.3" fill="#400040"/>
<line x1="603.3" y1="540.9" x2="665.9" y2="484.4" stroke="#400040" stroke-width="5.8" stroke-linecap="round"/><polygon points="683.0,469.0 668.1,497.3 665.9,484.4 653.4,480.9" fill="#400040"/>
</svg>
<div class="ann" style="left:475px;top:146.4px;font-size:25.8px;line-height:30px">inverted forecast</div>
<div class="ann" style="left:354px;top:465px;font-size:26px;line-height:30px">good forecast</div>
<div class="ann" style="left:467px;top:537.5px;font-size:26px;line-height:30px">good forecast</div>
</body></html>
